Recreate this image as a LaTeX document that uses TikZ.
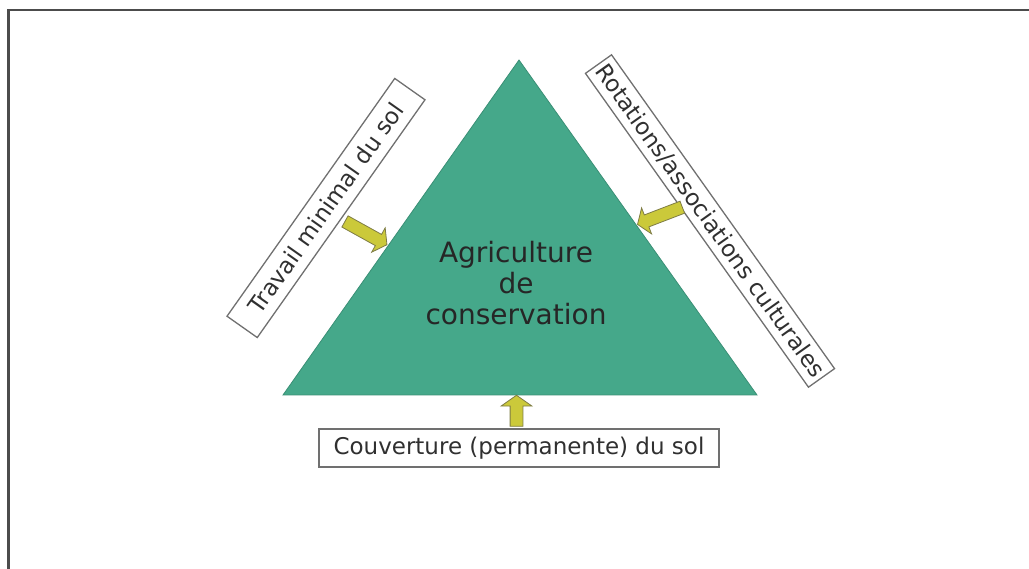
\documentclass[tikz,border=0pt]{standalone}
\usepackage{fontspec}
\newfontfamily\lab{DejaVu Sans}
\usetikzlibrary{shapes.arrows}
\definecolor{tri}{HTML}{45A88A}
\definecolor{triedge}{HTML}{3A8F75}
\definecolor{arr}{HTML}{CBC93A}
\definecolor{arredge}{HTML}{7E7C45}
\definecolor{txt}{HTML}{303030}
\definecolor{boxedge}{HTML}{707070}
\tikzset{
  labelbox/.style={draw=boxedge, line width=1.3pt, fill=white, inner sep=0pt,
    text=txt, font=\lab\fontsize{23}{26}\selectfont},
  blockarrow/.style={single arrow, draw=arredge, fill=arr, line width=0.8pt,
    inner sep=0pt, single arrow tip angle=110, single arrow head extend=7.5pt},
}
\newcommand{\shaft}{\rule{0pt}{12pt}}
\begin{document}
\begin{tikzpicture}[x=1pt,y=-1pt]
\useasboundingbox (0,0) rectangle (1029,569);
% frame
\draw[line width=2.2pt, color=black!70] (8.5,569) -- (8.5,10) -- (1029,10);
% triangle
\coordinate (apex) at (519,60);
\coordinate (bl) at (283,395);
\coordinate (br) at (757,395);
\filldraw[fill=tri, draw=triedge, line width=0.8pt, line join=miter] (apex) -- (br) -- (bl) -- cycle;
\node[align=center, text=black!85, font=\lab\fontsize{28}{31}\selectfont] (center) at (516,283)
  {Agriculture\\de\\conservation};
% label boxes
\node[labelbox, minimum width=291pt, minimum height=37pt, rotate=54.8] (left) at (326,208)
  {Travail minimal du sol};
\node[labelbox, minimum width=385pt, minimum height=32pt, rotate=-54.6] (right) at (710,221)
  {Rotations/associations culturales};
\node[labelbox, minimum width=400pt, minimum height=38pt] (bottom) at (519,448)
  {Couverture (permanente) du sol};
% arrows
\node[blockarrow, minimum height=48pt, rotate=-29] (al) at (364,232) {\shaft};
\node[blockarrow, minimum height=48pt, rotate=201] (ar) at (662,215) {\shaft};
\node[blockarrow, minimum height=31pt, single arrow head extend=9pt, rotate=90] (ab) at (516.5,413) {\shaft};
\end{tikzpicture}
\end{document}
